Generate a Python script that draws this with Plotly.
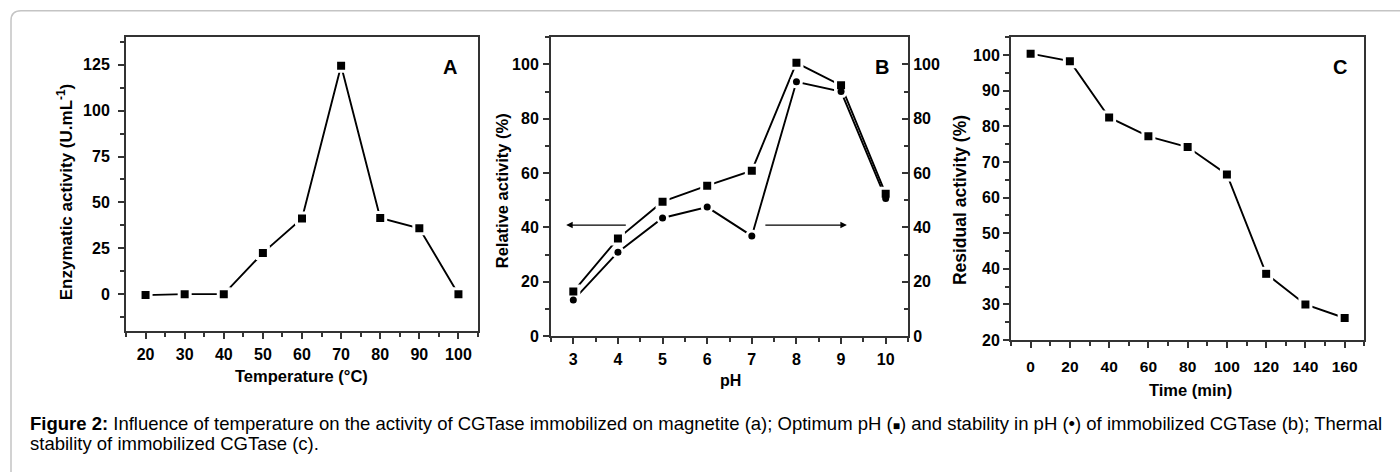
import plotly.graph_objects as go

W, H = 1400, 472

# ---------------- data ----------------
temperature = [20, 30, 40, 50, 60, 70, 80, 90, 100]
enzymatic_activity = [-0.5, 0, 0, 22.5, 41.2, 124.5, 41.5, 35.9, 0]

ph_values = [3, 4, 5, 6, 7, 8, 9, 10]
optimum_ph = [16.4, 35.9, 49.5, 55.4, 60.9, 100.6, 92.3, 52.4]
stability_ph = [13.3, 30.9, 43.5, 47.5, 36.9, 93.6, 90.0, 50.7]

time_min = [0, 20, 40, 60, 80, 100, 120, 140, 160]
residual_activity = [100.4, 98.3, 82.5, 77.2, 74.2, 66.5, 38.6, 30.0, 26.2]

FONT = "Liberation Sans, Arial, sans-serif"
AX = "#333333"


def px_x(p):
    return p / W


def px_y(p):
    return 1 - p / H


fig = go.Figure()


def add_lines(x, y, xa, ya):
    fig.add_trace(go.Scatter(x=x, y=y, xaxis=xa, yaxis=ya, mode="lines",
                             line=dict(color="black", width=1.9),
                             showlegend=False, hoverinfo="skip"))


def add_halo(x, y, xa, ya, symbol, size):
    fig.add_trace(go.Scatter(x=x, y=y, xaxis=xa, yaxis=ya, mode="markers",
                             marker=dict(symbol=symbol, size=size + 6, color="white",
                                         line=dict(width=0)),
                             showlegend=False, hoverinfo="skip"))


def add_markers(x, y, xa, ya, symbol, size):
    fig.add_trace(go.Scatter(x=x, y=y, xaxis=xa, yaxis=ya, mode="markers",
                             marker=dict(symbol=symbol, size=size, color="black",
                                         line=dict(width=0)),
                             showlegend=False))


# Panel A
add_lines(temperature, enzymatic_activity, "x", "y")
add_halo(temperature, enzymatic_activity, "x", "y", "square", 8)
add_markers(temperature, enzymatic_activity, "x", "y", "square", 8)

# Panel B
add_lines(ph_values, optimum_ph, "x2", "y2")
add_lines(ph_values, stability_ph, "x2", "y2")
add_halo(ph_values, optimum_ph, "x2", "y2", "square", 8)
add_halo(ph_values, stability_ph, "x2", "y2", "circle", 7)
add_markers(ph_values, optimum_ph, "x2", "y2", "square", 8)
add_markers(ph_values, stability_ph, "x2", "y2", "circle", 7)

# Panel C
add_lines(time_min, residual_activity, "x3", "y4")
add_halo(time_min, residual_activity, "x3", "y4", "square", 8)
add_markers(time_min, residual_activity, "x3", "y4", "square", 8)


def axis(domain, rng, dtick, minor_dtick, anchor, ticks="outside", fsize=16,
         standoff=0, **kw):
    d = dict(domain=domain, range=rng, dtick=dtick, tick0=0, tickmode="linear",
             showline=True, linecolor=AX, linewidth=2, mirror=True,
             ticks=ticks, ticklen=6, tickwidth=1.5, tickcolor=AX,
             showgrid=False, zeroline=False, anchor=anchor,
             ticklabelstandoff=standoff,
             tickfont=dict(family=FONT, size=fsize, color="black", weight="bold"),
             minor=dict(ticks=ticks, ticklen=4, tickwidth=1.5, tickcolor=AX,
                        dtick=minor_dtick, tick0=0, showgrid=False))
    d.update(kw)
    return d


# pixel geometry of the three plot boxes
A_box = (126, 478, 38, 337.3)
B_box = (551, 908, 38, 342.7)
C_box = (1011, 1364.3, 38, 346.7)


def dom_x(b):
    return [px_x(b[0]), px_x(b[1])]


def dom_y(b):
    return [px_y(b[3]), px_y(b[2])]


fig.update_layout(
    width=W, height=H,
    margin=dict(l=0, r=0, t=0, b=0),
    paper_bgcolor="white", plot_bgcolor="white",
    showlegend=False,
    xaxis=axis(dom_x(A_box), [15, 105], 10, 5, "y", standoff=2),
    yaxis=axis(dom_y(A_box), [-20, 140], 25, 12.5, "x", standoff=5),
    xaxis2=axis(dom_x(B_box), [2.5, 10.5], 1, 0.5, "y2", standoff=2),
    yaxis2=axis(dom_y(B_box), [0, 110], 20, 10, "x2", standoff=1),
    yaxis3=axis(dom_y(B_box), [0, 110], 20, 10, "x2", ticks="inside",
                overlaying="y2", side="right", mirror=False),
    xaxis3=axis(dom_x(C_box), [-10, 170], 20, 10, "y4", standoff=5, fsize=15.5),
    yaxis4=axis(dom_y(C_box), [20, 105], 10, 5, "x3", standoff=0),
)

# invisible trace so the right-hand axis of panel B is drawn
fig.add_trace(go.Scatter(x=[ph_values[0]], y=[optimum_ph[0]], xaxis="x2", yaxis="y3",
                         mode="markers", marker=dict(opacity=0), showlegend=False,
                         hoverinfo="skip"))

ann = []


def label(text, x, y, angle=0, size=16, bold=True, xanchor="center"):
    font = dict(family=FONT, size=size, color="black", weight="bold" if bold else "normal")
    ann.append(dict(text=text, x=px_x(x), y=px_y(y), xref="paper", yref="paper",
                    showarrow=False, textangle=angle, font=font,
                    xanchor=xanchor, yanchor="middle"))


label("Enzymatic activity (U.mL<sup>-1</sup>)", 65, 196, -90, size=17)
label("Temperature (°C)", 301, 383, size=16.5)
label("Relative activity (%)", 502, 195, -90, size=16.5)
label("pH", 730, 388, size=16)
label("Residual activity (%)", 960, 204, -90, size=17.5)
label("Time (min)", 1190, 398, size=16.5)

label("A", 450, 68, size=20)
label("B", 882, 68, size=20)
label("C", 1340, 68, size=20)

label("<b>Figure 2:</b> Influence of temperature on the activity of CGTase immobilized on "
      "magnetite (a); Optimum pH (<span style='font-size:12px'>■</span>) and stability in pH (•) "
      "of immobilized CGTase (b); Thermal", 28, 432, size=18.5, bold=False, xanchor="left")
label("stability of immobilized CGTase (c).", 28, 452, size=18.5, bold=False, xanchor="left")

# arrows in panel B
arrow = dict(xref="x2", yref="y2", axref="x2", ayref="y2", showarrow=True,
             arrowhead=2, arrowsize=1, arrowwidth=1.3, arrowcolor="black", text="")
ann.append(dict(arrow, x=2.84, y=40.9, ax=4.21, ay=40.9))
ann.append(dict(arrow, x=9.13, y=40.9, ax=7.27, ay=40.9))

fig.update_layout(annotations=ann)

# card border (rounded top-left corner)
fig.add_shape(type="path", xref="paper", yref="paper",
              path=f"M {px_x(11)},{px_y(500)} L {px_x(11)},{px_y(21)} "
                   f"Q {px_x(11)},{px_y(11)} {px_x(21)},{px_y(11)} L {px_x(1420)},{px_y(11)}",
              line=dict(color="#c4c4c4", width=1.5))

fig.write_html("out.html",
               config={"displayModeBar": False},
               post_script="document.body.style.margin='0';document.body.style.overflow='hidden';")
